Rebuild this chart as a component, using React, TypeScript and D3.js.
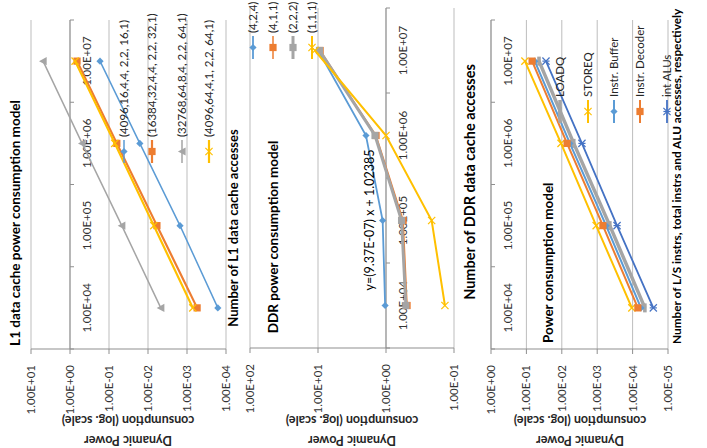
import React from "react";
import * as d3 from "d3";

// ---------- data ----------
const categories = ["1.00E+04", "1.00E+05", "1.00E+06", "1.00E+07"];

// L1 data cache panel
const l1Names = [
  "(4096,16,4,4, 2,2, 16,1)",
  "(16384,32,4,4, 2,2, 32,1)",
  "(32768,64,8,4, 2,2, 64,1)",
  "(4096,64,4,1, 2,2, 64,1)",
];
const l1Blue = [1.62e-4, 1.51e-3, 1.62e-2, 0.17];
const l1Orange = [5.5e-4, 5.9e-3, 6.3e-2, 0.66];
const l1Gray = [4.7e-3, 4.7e-2, 0.49, 4.9];
const l1Yellow = [7.1e-4, 7.1e-3, 7.1e-2, 0.74];
const l1Ticks = [1e1, 1e0, 1e-1, 1e-2, 1e-3, 1e-4];
const l1TickLabels = ["1.00E+01", "1.00E+00", "1.00E-01", "1.00E-02", "1.00E-03", "1.00E-04"];

// DDR panel
const ddrNames = ["(4,2,4)", "(4,1,1)", "(2,2,2)", "(1,1,1)"];
const ddrBlue = [1.03, 1.12, 1.97, 9.9];
const ddrOrange = [0.49, 0.56, 1.4, 9.3];
const ddrGray = [0.51, 0.59, 1.45, 9.5];
const ddrYellow = [0.136, 0.213, 1.0, 11.1];
const ddrTicks = [1e2, 1e1, 1e0, 1e-1];
const ddrTickLabels = ["1.00E+02", "1.00E+01", "1.00E+00", "1.00E-01"];
const ddrEquation = "y=(9.37E-07) x + 1.02385";

// Core units panel
const coreNames = ["LOADQ", "STOREQ", "Instr. Buffer", "Instr. Decoder", "int ALUs"];
const coreLoadq = [4.5e-5, 4.4e-4, 4.6e-3, 4.4e-2];
const coreStoreq = [1.05e-4, 1.07e-3, 1.05e-2, 0.11];
const coreBuffer = [5.8e-5, 5.6e-4, 5.9e-3, 5.8e-2];
const coreDecoder = [7.1e-5, 6.9e-4, 7.1e-3, 6.9e-2];
const coreAlus = [2.6e-5, 2.75e-4, 2.7e-3, 2.8e-2];
const coreTicks = [1e0, 1e-1, 1e-2, 1e-3, 1e-4, 1e-5];
const coreTickLabels = ["1.00E+00", "1.00E-01", "1.00E-02", "1.00E-03", "1.00E-04", "1.00E-05"];

// ---------- style ----------
const BLUE = "#5B9BD5";
const ORANGE = "#ED7D31";
const GRAY = "#A5A5A5";
const YELLOW = "#FFC000";
const DKBLUE = "#4472C4";
const FONT = "Lato, 'Open Sans', sans-serif";
const GRID = "#bdbdbd";
const AXIS = "#8f8f8f";

type MarkerKind = "diamond" | "square" | "triangle" | "x" | "star" | "dash";

function Marker({ kind, x, y, color }: { kind: MarkerKind; x: number; y: number; color: string }) {
  const s = 3.6;
  switch (kind) {
    case "diamond":
      return <path d={`M${x},${y - s}L${x + s},${y}L${x},${y + s}L${x - s},${y}Z`} fill={color} />;
    case "square":
      return <rect x={x - s} y={y - s} width={2 * s} height={2 * s} fill={color} />;
    case "triangle":
      return <path d={`M${x},${y - s - 0.5}L${x + s + 0.5},${y + s}L${x - s - 0.5},${y + s}Z`} fill={color} />;
    case "x":
      return (
        <g stroke={color} strokeWidth={1.2}>
          <line x1={x - s} y1={y - s} x2={x + s} y2={y + s} />
          <line x1={x - s} y1={y + s} x2={x + s} y2={y - s} />
        </g>
      );
    case "star":
      return (
        <g stroke={color} strokeWidth={1.2}>
          <line x1={x - s} y1={y - s} x2={x + s} y2={y + s} />
          <line x1={x - s} y1={y + s} x2={x + s} y2={y - s} />
          <line x1={x} y1={y - s} x2={x} y2={y + s} />
        </g>
      );
    case "dash":
      return <rect x={x - 4.5} y={y - 1.8} width={9} height={3.6} fill={color} />;
  }
  return null;
}

interface Series {
  name: string;
  values: number[];
  color: string;
  marker: MarkerKind;
  width: number;
}

interface PanelProps {
  vDomain: [number, number];
  vRange: [number, number];
  uRange: [number, number];
  ticks: number[];
  tickLabels: string[];
  cross: number;
  series: Series[];
  legendU: number;
  legendV: number[];
  yTitleCenter: number;
}

function Panel(p: PanelProps) {
  const y = d3.scaleLog().domain(p.vDomain).range(p.vRange);
  const x = d3.scaleBand<string>().domain(categories).range(p.uRange);
  const bw = x.bandwidth();
  const cx = (c: string) => (x(c) as number) + bw / 2;
  const line = d3
    .line<number>()
    .x((_, i) => cx(categories[i]))
    .y((d) => y(d));
  const crossV = y(p.cross);
  const u0 = p.uRange[0];
  const u1 = p.uRange[1];
  return (
    <g>
      {p.ticks.map((t, i) => (
        <line key={"g" + i} x1={u0} x2={u1} y1={y(t)} y2={y(t)} stroke={GRID} strokeWidth={1} />
      ))}
      <line x1={u0} x2={u0} y1={p.vRange[0]} y2={p.vRange[1]} stroke={AXIS} />
      {p.ticks.map((t, i) => (
        <line key={"t" + i} x1={u0 - 5} x2={u0} y1={y(t)} y2={y(t)} stroke={AXIS} />
      ))}
      {p.tickLabels.map((l, i) => (
        <text
          key={"tl" + i}
          x={u0 - 16}
          y={y(p.ticks[i]) + 4}
          textAnchor="end"
          fontSize={11.5}
          fill="#333"
          fontFamily={FONT}
        >
          {l}
        </text>
      ))}
      <line x1={u0} x2={u1} y1={crossV} y2={crossV} stroke={AXIS} />
      {d3.range(categories.length + 1).map((i) => (
        <line key={"ct" + i} x1={u0 + i * bw} x2={u0 + i * bw} y1={crossV} y2={crossV + 4} stroke={AXIS} />
      ))}
      {categories.map((c) => (
        <text key={c} x={cx(c)} y={crossV + 21} textAnchor="middle" fontSize={11.5} fill="#333" fontFamily={FONT}>
          {c}
        </text>
      ))}
      {p.series.map((s) => (
        <g key={s.name}>
          <path d={line(s.values) || ""} fill="none" stroke={s.color} strokeWidth={s.width} />
          {s.values.map((v, i) => (
            <Marker key={i} kind={s.marker} x={cx(categories[i])} y={y(v)} color={s.color} />
          ))}
        </g>
      ))}
      {p.series.map((s, i) => (
        <g key={"lg" + i}>
          <line x1={p.legendU} x2={p.legendU + 23} y1={p.legendV[i]} y2={p.legendV[i]} stroke={s.color} strokeWidth={s.width} />
          <Marker kind={s.marker} x={p.legendU + 11.5} y={p.legendV[i]} color={s.color} />
          <text x={p.legendU + 26} y={p.legendV[i] + 4} fontSize={11.5} fill="#262626" fontFamily={FONT}>
            {s.name}
          </text>
        </g>
      ))}
      <g fontFamily={FONT} fontWeight="bold" fontSize={12.5} fill="#262626" textAnchor="middle">
        <text transform={`translate(12,${p.yTitleCenter}) rotate(-90)`}>Dynamic Power</text>
        <text transform={`translate(32,${p.yTitleCenter}) rotate(-90)`}>consumption (log. scale)</text>
      </g>
    </g>
  );
}

export default function App() {
  const l1Series: Series[] = [
    { name: l1Names[0], values: l1Blue, color: BLUE, marker: "diamond", width: 1.5 },
    { name: l1Names[1], values: l1Orange, color: ORANGE, marker: "square", width: 2.2 },
    { name: l1Names[2], values: l1Gray, color: GRAY, marker: "triangle", width: 1.5 },
    { name: l1Names[3], values: l1Yellow, color: YELLOW, marker: "x", width: 2.2 },
  ];
  const ddrSeries: Series[] = [
    { name: ddrNames[0], values: ddrBlue, color: BLUE, marker: "diamond", width: 1.8 },
    { name: ddrNames[1], values: ddrOrange, color: ORANGE, marker: "square", width: 1.5 },
    { name: ddrNames[2], values: ddrGray, color: GRAY, marker: "square", width: 3 },
    { name: ddrNames[3], values: ddrYellow, color: YELLOW, marker: "x", width: 2 },
  ];
  const coreSeries: Series[] = [
    { name: coreNames[0], values: coreLoadq, color: GRAY, marker: "dash", width: 3.5 },
    { name: coreNames[1], values: coreStoreq, color: YELLOW, marker: "x", width: 2 },
    { name: coreNames[2], values: coreBuffer, color: BLUE, marker: "diamond", width: 2 },
    { name: coreNames[3], values: coreDecoder, color: ORANGE, marker: "square", width: 2 },
    { name: coreNames[4], values: coreAlus, color: DKBLUE, marker: "star", width: 1.8 },
  ];
  return (
    <svg
      width={707}
      height={448}
      style={{ position: "absolute", left: 0, top: 0, background: "#fff" }}
    >
      <rect width={707} height={448} fill="#fff" />
      <g transform="translate(0,448) rotate(-90)">
        {/* Panel 1: L1 */}
        <Panel
          vDomain={[1e1, 1e-4]}
          vRange={[31, 226]}
          uRange={[99, 428]}
          ticks={l1Ticks}
          tickLabels={l1TickLabels}
          cross={1}
          series={l1Series}
          legendU={285}
          legendV={[124, 152, 182, 209]}
          yTitleCenter={128}
        />
        <text x={225} y={20} textAnchor="middle" fontFamily={FONT} fontWeight="bold" fontSize={13.5} fill="#000">
          L1 data cache power consumption model
        </text>
        <text x={220} y={238} textAnchor="middle" fontFamily={FONT} fontWeight="bold" fontSize={13} fill="#000">
          Number of L1 data cache accesses
        </text>

        {/* Panel 2: DDR */}
        <Panel
          vDomain={[1e2, 1e-1]}
          vRange={[250, 454]}
          uRange={[100, 440]}
          ticks={ddrTicks}
          tickLabels={ddrTickLabels}
          cross={1}
          series={ddrSeries}
          legendU={389}
          legendV={[253, 273, 293, 312]}
          yTitleCenter={352}
        />
        <text x={211} y={278} textAnchor="middle" fontFamily={FONT} fontWeight="bold" fontSize={13.5} fill="#000">
          DDR power consumption model
        </text>
        <text x={228} y={374} textAnchor="middle" fontFamily={FONT} fontSize={12.5} fill="#000">
          {ddrEquation}
        </text>
        <text x={266} y={475} textAnchor="middle" fontFamily={FONT} fontWeight="bold" fontSize={14.5} fill="#000">
          Number of DDR data cache accesses
        </text>

        {/* Panel 3: core units */}
        <Panel
          vDomain={[1e0, 1e-5]}
          vRange={[491, 668]}
          uRange={[99, 428]}
          ticks={coreTicks}
          tickLabels={coreTickLabels}
          cross={1}
          series={coreSeries}
          legendU={325}
          legendV={[560, 588, 614, 640, 667]}
          yTitleCenter={580}
        />
        <text x={105} y={553} textAnchor="start" fontFamily={FONT} fontWeight="bold" fontSize={13.5} fill="#000">
          Power consumption model
        </text>
        <text x={104} y={681} textAnchor="start" fontFamily={FONT} fontWeight="bold" fontSize={11.8} fill="#000">
          Number of L/S instrs, total instrs and ALU accesses, respectively
        </text>
      </g>
    </svg>
  );
}
